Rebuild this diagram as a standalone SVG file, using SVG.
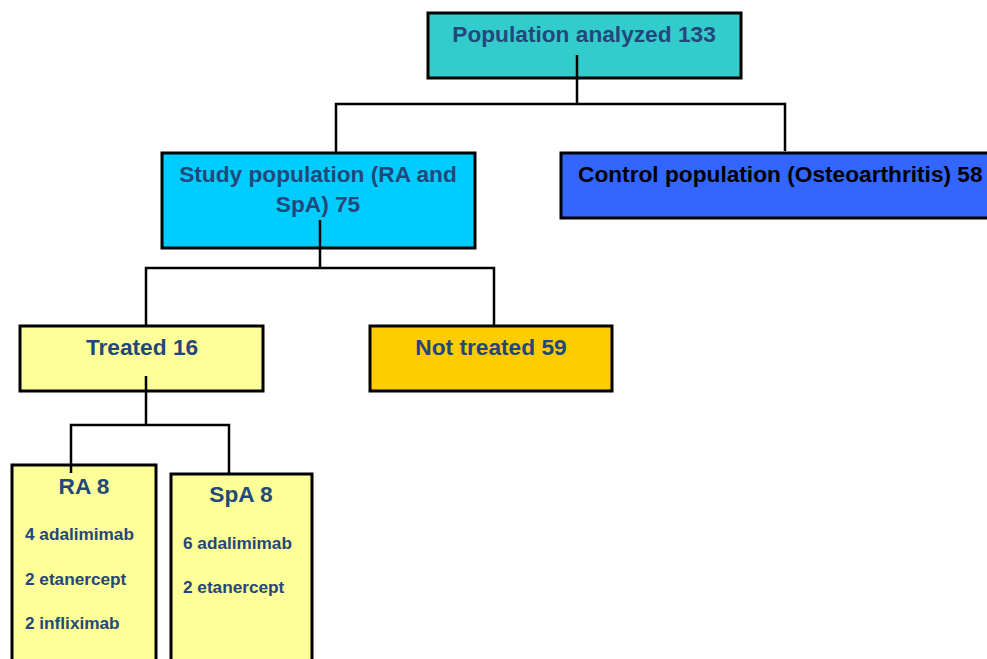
<svg xmlns="http://www.w3.org/2000/svg" width="987" height="659" viewBox="0 0 987 659">
<style>
.box{stroke:#000;stroke-width:3}
.t{font-family:"Liberation Sans",Arial,sans-serif;font-weight:bold;fill:#24477A}
.h{font-size:22.7px;text-anchor:middle}
.s{font-size:17.2px}
.c{fill:none;stroke:#000;stroke-width:2.5}
</style>
<rect width="987" height="659" fill="#fff"/>
<g id="population">
<rect class="box" x="428" y="13" width="313" height="65" fill="#33CCCC"/>
<text class="t h" x="584" y="42">Population analyzed 133</text>
</g>
<g id="study">
<rect class="box" x="162" y="153" width="313" height="95" fill="#00CCFF"/>
<text class="t h" x="318" y="182">Study population (RA and</text>
<text class="t h" x="318" y="212">SpA) 75</text>
</g>
<g id="control">
<rect class="box" x="561" y="153" width="430" height="65" fill="#3366FF"/>
<text class="t" x="578" y="182" font-size="22.7" style="fill:#000">Control population (Osteoarthritis) 58</text>
</g>
<g id="treated">
<rect class="box" x="20" y="326" width="243" height="65" fill="#FFFF99"/>
<text class="t h" x="142" y="355">Treated 16</text>
</g>
<g id="nottreated">
<rect class="box" x="370" y="326" width="242" height="65" fill="#FFCC00"/>
<text class="t h" x="491" y="355">Not treated 59</text>
</g>
<g id="ra">
<rect class="box" x="12" y="465" width="144" height="200" fill="#FFFF99"/>
<text class="t h" x="84" y="494">RA 8</text>
<text class="t s" x="25" y="540">4 adalimimab</text>
<text class="t s" x="25" y="585">2 etanercept</text>
<text class="t s" x="25" y="629">2 infliximab</text>
</g>
<g id="spa">
<rect class="box" x="171" y="474" width="141" height="200" fill="#FFFF99"/>
<text class="t h" x="241" y="502">SpA 8</text>
<text class="t s" x="183" y="549">6 adalimimab</text>
<text class="t s" x="183" y="593">2 etanercept</text>
</g>
<g id="connectors">
<path class="c" d="M577 55V104M336 152V104H785V151"/>
<path class="c" d="M320 220V268M146 326V268H494V326"/>
<path class="c" d="M146 376V425M71 473V425H229V474"/>
</g>
</svg>
